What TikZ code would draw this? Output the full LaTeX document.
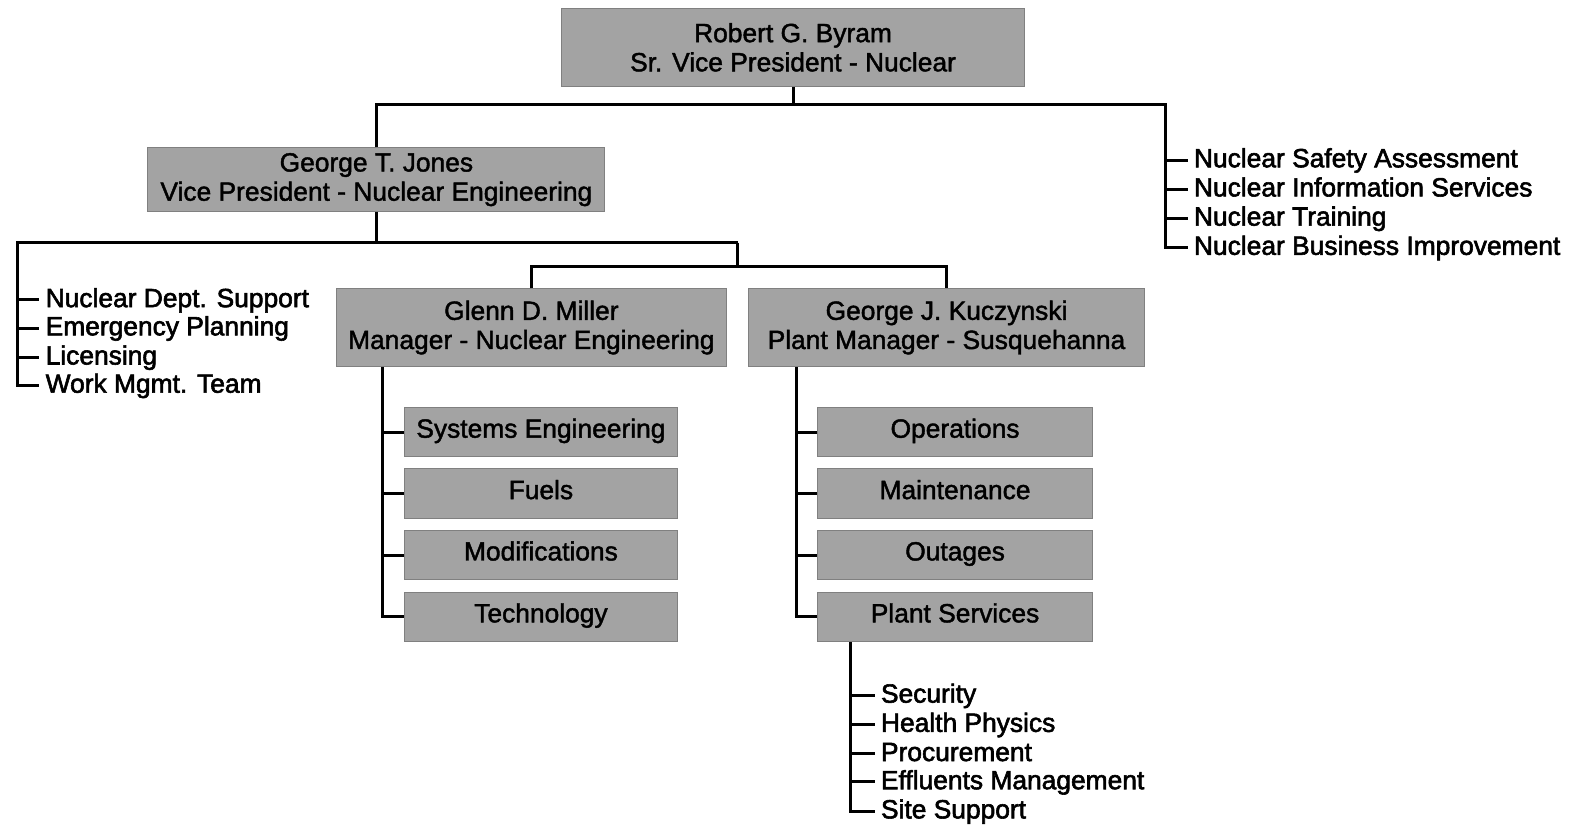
\documentclass[tikz,border=0pt]{standalone}
\usepackage{fontspec}
\setmainfont{Liberation Sans}
\newfontfamily\itemfont{Liberation Sans}[FakeBold=2.2]
\newfontfamily\boxfont{Liberation Sans}[FakeBold=1.6]
\usetikzlibrary{calc}
\definecolor{boxgray}{gray}{0.64}
\begin{document}
\begin{tikzpicture}[x=0.5pt,y=-0.5pt,
  box/.style={fill=boxgray, draw=black!50, line width=0.5pt, inner sep=0pt, align=center,
    font=\boxfont\fontsize{13.1}{14.5}\selectfont},
  sbox/.style={box, text height=0.74em, text depth=0.2em},
  item/.style={anchor=west, inner xsep=3pt, inner ysep=0pt, text height=0.72em, text depth=0pt,
    font=\itemfont\fontsize{13.1}{14.5}\selectfont},
  conn/.style={line width=1.5pt}]
\useasboundingbox (0,0) rectangle (1568,821);

% boxes
\node[box, minimum width=230pt, minimum height=39pt] (top) at (788,47) {Robert G. Byram\\Sr. Vice President - Nuclear};
\node[box, minimum width=227pt, minimum height=31.5pt] (jones) at (374,178.5) {George T. Jones\\Vice President - Nuclear Engineering};
\node[box, minimum width=194pt, minimum height=38.5pt] (miller) at (528,325.5) {Glenn D. Miller\\Manager - Nuclear Engineering};
\node[box, minimum width=196.5pt, minimum height=38.5pt] (kucz) at (940.5,325.5) {George J. Kuczynski\\Plant Manager - Susquehanna};

\node[sbox, minimum width=135.5pt, minimum height=24.5pt] (sys) at (537.5,429.5) {Systems Engineering};
\node[sbox, minimum width=135.5pt, minimum height=24.5pt] (fuel) at (537.5,490.5) {Fuels};
\node[sbox, minimum width=135.5pt, minimum height=24.5pt] (mods) at (537.5,551.5) {Modifications};
\node[sbox, minimum width=135.5pt, minimum height=24.5pt] (tech) at (537.5,613) {Technology};

\node[sbox, minimum width=137pt, minimum height=24.5pt] (ops) at (949,429.5) {Operations};
\node[sbox, minimum width=137pt, minimum height=24.5pt] (maint) at (949,490.5) {Maintenance};
\node[sbox, minimum width=137pt, minimum height=24.5pt] (outg) at (949,551.5) {Outages};
\node[sbox, minimum width=137pt, minimum height=24.5pt] (ps) at (949,613) {Plant Services};

% lists
\node[item] (n1) at (1180,159) {Nuclear Safety Assessment};
\node[item] (n2) at (1180,188) {Nuclear Information Services};
\node[item] (n3) at (1180,217) {Nuclear Training};
\node[item] (n4) at (1180,246) {Nuclear Business Improvement};

\node[item] (w1) at (39,298) {Nuclear Dept. Support};
\node[item] (w2) at (39,326) {Emergency Planning};
\node[item] (w3) at (39,355) {Licensing};
\node[item] (w4) at (39,383) {Work Mgmt. Team};

\node[item] (s1) at (869,691) {Security};
\node[item] (s2) at (869,720) {Health Physics};
\node[item] (s3) at (869,749) {Procurement};
\node[item] (s4) at (869,777) {Effluents Management};
\node[item] (s5) at (869,806) {Site Support};

% junctions
\coordinate (h1) at (788,104);
\coordinate (rc) at (1158,104);
\coordinate (h2) at (374,241);
\coordinate (lc) at (17,241);
\coordinate (h3) at (733,241);
\coordinate (h4) at (733,265);
\coordinate (mv) at ($(miller.south west)+(47,0)$);
\coordinate (kv) at ($(kucz.south west)+(48,0)$);
\coordinate (pv) at ($(ps.south west)+(34,0)$);

% connectors
\draw[conn] (top.south) -- (h1);
\draw[conn] (jones.north) |- (rc) |- (n4.west);
\foreach \n in {n1,n2,n3} \draw[conn] (rc |- \n.west) -- (\n.west);

\draw[conn] (jones.south) -- (h2);
\draw[conn] (h3) -- (lc) |- (w4.west);
\foreach \n in {w1,w2,w3} \draw[conn] (lc |- \n.west) -- (\n.west);
\draw[conn] (h3) -- (h4);
\draw[conn] (miller.north) |- (h4) -| (kucz.north);

\draw[conn] (mv) |- (tech.west);
\foreach \n in {sys,fuel,mods} \draw[conn] (mv |- \n.west) -- (\n.west);
\draw[conn] (kv) |- (ps.west);
\foreach \n in {ops,maint,outg} \draw[conn] (kv |- \n.west) -- (\n.west);

\draw[conn] (pv) |- (s5.west);
\foreach \n in {s1,s2,s3,s4} \draw[conn] (pv |- \n.west) -- (\n.west);
\end{tikzpicture}
\end{document}
